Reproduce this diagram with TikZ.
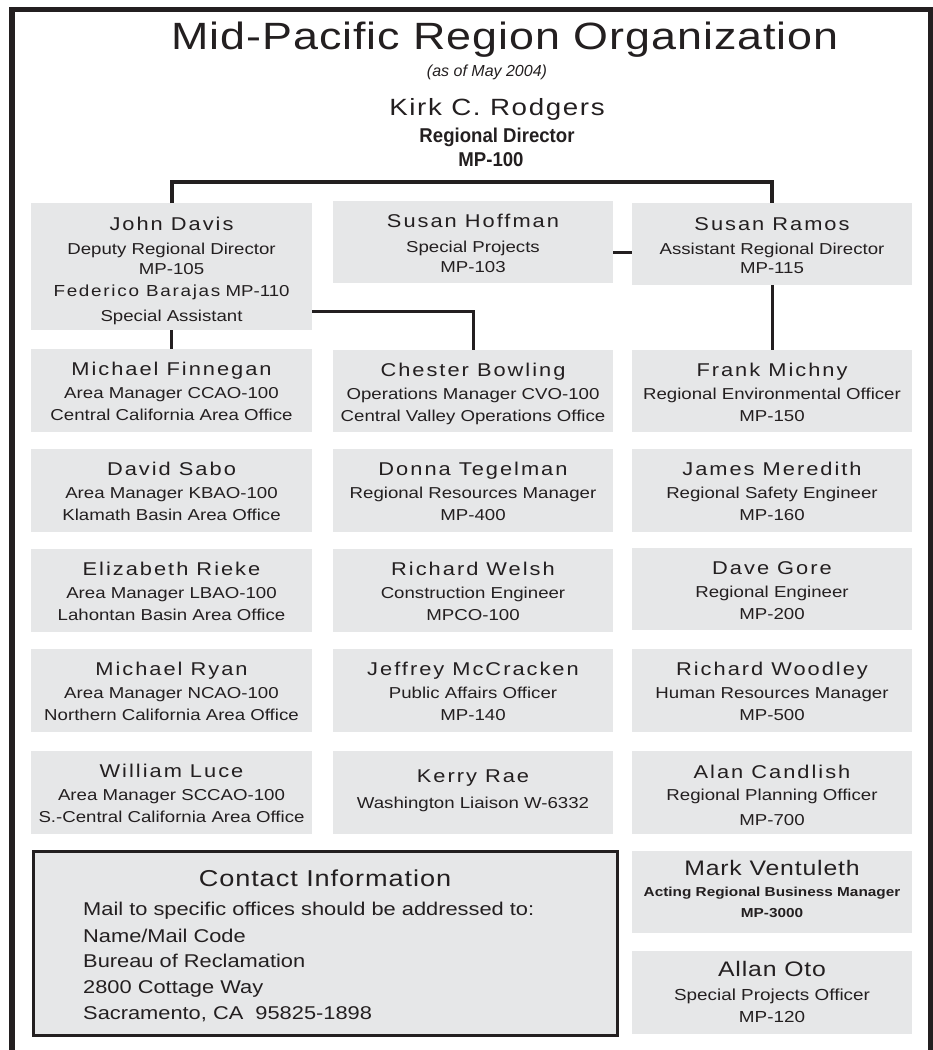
\documentclass[tikz,border=0pt]{standalone}
\usepackage{fontspec}
\setmainfont{Liberation Sans}[FakeStretch=1.18]
\newfontfamily\namefam{Liberation Sans}[FakeStretch=1.18,LetterSpace=10.8]
\newfontfamily\titlefam{Liberation Sans}[FakeStretch=1.18,LetterSpace=2.5]
\newfontfamily\kirkfam{Liberation Sans}[FakeStretch=1.18,LetterSpace=7]
\newfontfamily\lightfam{Liberation Sans}[FakeStretch=1.18,LetterSpace=4]
\newfontfamily\plainfam{Liberation Sans}
\newfontfamily\condfam{Liberation Sans}[FakeStretch=0.93]
\definecolor{ink}{HTML}{231F20}
\definecolor{boxgray}{HTML}{E6E7E8}
\newcommand\setfs[1]{\fontsize{#1}{#1}\selectfont}
\tikzset{
  box/.style={fill=boxgray, inner sep=0pt, outer sep=0pt, anchor=north west},
  nm/.style={anchor=base, inner sep=0pt, text=ink, font=\namefam\setfs{18.5}},
  tx/.style={anchor=base, inner sep=0pt, text=ink, font=\setfs{15.8}},
  lt/.style={anchor=base, inner sep=0pt, text=ink, font=\lightfam\setfs{21}},
  bd/.style={anchor=base, inner sep=0pt, text=ink, font=\bfseries\setfs{13}},
  hb/.style={anchor=base, inner sep=0pt, text=ink, font=\condfam\bfseries\setfs{20}},
  ct/.style={anchor=base west, inner sep=0pt, text=ink, font=\setfs{18.5}},
  conn/.style={draw=ink, line width=3pt},
  topconn/.style={draw=ink, line width=4pt, line join=miter},
  frame/.style={draw=ink, line width=5.5pt, line join=miter},
}
% standard card: id, left x, top y, width, height, name, line 2, line 3
\newcommand\card[8]{%
  \node[box, minimum width=#4, minimum height=#5] (#1) at (#2,#3) {};
  \node[nm] (#1-n) at (#2+#4/2,#3+26) {#6};
  \node[tx] (#1-a) at (#2+#4/2,#3+49) {#7};
  \node[tx] (#1-b) at (#2+#4/2,#3+71) {#8};
}
\begin{document}
\begin{tikzpicture}[x=1pt,y=-1pt]
\path[use as bounding box] (0,0) rectangle (933,1050);
% outer frame
\draw[frame] (12,1050) -- (12,9.5) -- (930.5,9.5) -- (930.5,1050);

% header
\node[anchor=base, inner sep=0pt, text=ink, font=\titlefam\setfs{38}] (title) at (505,49) {Mid-Pacific Region Organization};
\node[anchor=base, inner sep=0pt, text=ink, font=\plainfam\itshape\setfs{16}] (asof) at (487,76) {(as of May 2004)};
\node[anchor=base, inner sep=0pt, text=ink, font=\kirkfam\setfs{23.5}] (kirk) at (497,115) {Kirk C. Rodgers};
\node[hb] (kirk-a) at (497,142) {Regional Director};
\node[hb] (kirk-b) at (491,166) {MP-100};
\coordinate (bar) at (471,182);

% top row
\node[box, minimum width=281, minimum height=127] (davis) at (31,203) {};
\node[nm] (davis-n) at (171.5,230) {John Davis};
\node[tx] (davis-a) at (171.5,254) {Deputy Regional Director};
\node[tx] (davis-b) at (171.5,274) {MP-105};
\node[tx] (davis-c) at (171.5,296) {{\namefam\setfs{16}Federico Barajas} MP-110};
\node[tx] (davis-d) at (171.5,321) {Special Assistant};

\node[box, minimum width=280, minimum height=82] (hoffman) at (333,201) {};
\node[nm] (hoffman-n) at (473,227) {Susan Hoffman};
\node[tx] (hoffman-a) at (473,252) {Special Projects};
\node[tx] (hoffman-b) at (473,272) {MP-103};

\node[box, minimum width=280, minimum height=82] (ramos) at (632,203) {};
\node[nm] (ramos-n) at (772,230) {Susan Ramos};
\node[tx] (ramos-a) at (772,254) {Assistant Regional Director};
\node[tx] (ramos-b) at (772,273) {MP-115};

% column 1
\card{finnegan}{31}{349}{281}{83}{Michael Finnegan}{Area Manager CCAO-100}{Central California Area Office}
\card{sabo}{31}{449}{281}{83}{David Sabo}{Area Manager KBAO-100}{Klamath Basin Area Office}
\card{rieke}{31}{549}{281}{83}{Elizabeth Rieke}{Area Manager LBAO-100}{Lahontan Basin Area Office}
\card{ryan}{31}{649}{281}{83}{Michael Ryan}{Area Manager NCAO-100}{Northern California Area Office}
\card{luce}{31}{751}{281}{83}{William Luce}{Area Manager SCCAO-100}{S.-Central California Area Office}

% column 2
\card{bowling}{333}{350}{280}{82}{Chester Bowling}{Operations Manager CVO-100}{Central Valley Operations Office}
\card{tegelman}{333}{449}{280}{83}{Donna Tegelman}{Regional Resources Manager}{MP-400}
\card{welsh}{333}{549}{280}{83}{Richard Welsh}{Construction Engineer}{MPCO-100}
\card{mccracken}{333}{649}{280}{83}{Jeffrey McCracken}{Public Affairs Officer}{MP-140}
\node[box, minimum width=280, minimum height=83] (rae) at (333,751) {};
\node[nm] (rae-n) at (473,782) {Kerry Rae};
\node[tx] (rae-a) at (473,808) {Washington Liaison W-6332};

% column 3
\card{michny}{632}{350}{280}{82}{Frank Michny}{Regional Environmental Officer}{MP-150}
\card{meredith}{632}{449}{280}{83}{James Meredith}{Regional Safety Engineer}{MP-160}
\card{gore}{632}{548}{280}{82}{Dave Gore}{Regional Engineer}{MP-200}
\card{woodley}{632}{649}{280}{83}{Richard Woodley}{Human Resources Manager}{MP-500}
\node[box, minimum width=280, minimum height=83] (candlish) at (632,751) {};
\node[nm] (candlish-n) at (772,778) {Alan Candlish};
\node[tx] (candlish-a) at (772,800) {Regional Planning Officer};
\node[tx] (candlish-b) at (772,825) {MP-700};

\node[box, minimum width=280, minimum height=82] (ventuleth) at (632,851) {};
\node[lt] (ventuleth-n) at (772,875) {Mark Ventuleth};
\node[bd] (ventuleth-a) at (772,896) {Acting Regional Business Manager};
\node[bd] (ventuleth-b) at (772,917) {MP-3000};

\node[box, minimum width=280, minimum height=83] (oto) at (632,951) {};
\node[lt] (oto-n) at (772,976) {Allan Oto};
\node[tx, font=\setfs{16}] (oto-a) at (772,1000) {Special Projects Officer};
\node[tx, font=\setfs{16}] (oto-b) at (772,1022) {MP-120};

% contact information
\node[box, draw=ink, line width=3pt, minimum width=584, minimum height=184] (contact) at (33,851) {};
\node[anchor=base, inner sep=0pt, text=ink, font=\lightfam\setfs{23}] (contact-t) at (325,886) {Contact Information};
\node[ct] (contact-1) at (83,915) {Mail to specific offices should be addressed to:};
\node[ct] (contact-2) at (83,942) {Name/Mail Code};
\node[ct] (contact-3) at (83,967) {Bureau of Reclamation};
\node[ct] (contact-4) at (83,993) {2800 Cottage Way};
\node[ct] (contact-5) at (83,1019) {Sacramento, CA\ \ 95825-1898};

% connectors
\draw[topconn] (davis.north) |- (bar) -| (ramos.north);
\draw[conn] (hoffman.east |- 0,252) -- (ramos.west |- 0,252);
\draw[conn] (ramos.south) -- (michny.north);
\draw[conn] (davis.south) -- (finnegan.north);
\draw[conn] (davis.east |- 0,311) -| (bowling.north);
\end{tikzpicture}
\end{document}
